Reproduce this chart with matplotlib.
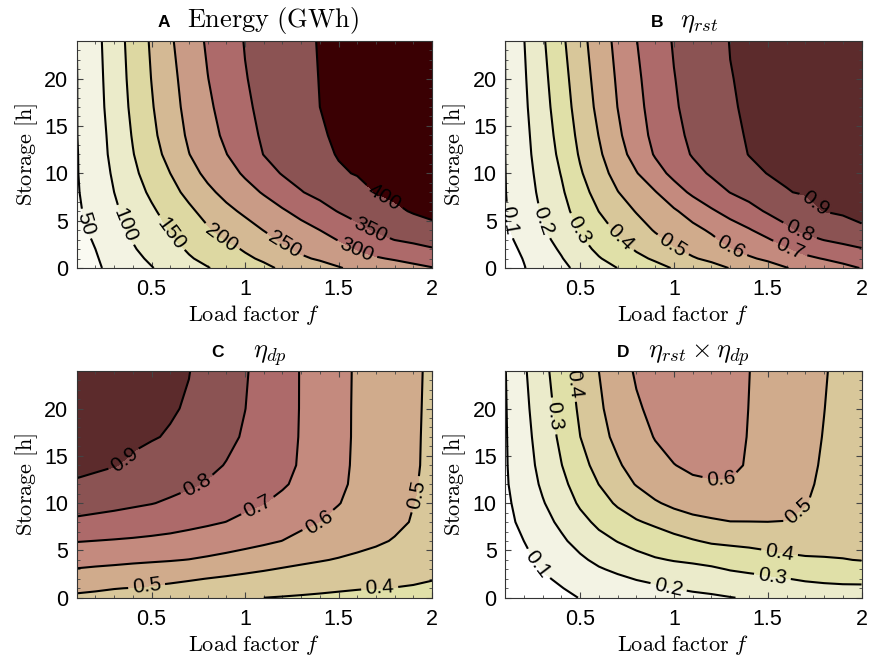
import numpy as np
import matplotlib
matplotlib.use('Agg')
import matplotlib.pyplot as plt
from matplotlib.ticker import MultipleLocator

plt.rcParams['mathtext.fontset'] = 'cm'
plt.rcParams['font.family'] = ['Liberation Sans', 'DejaVu Sans']

# grid
load_factor = [0.1, 0.2, 0.3, 0.4, 0.5, 0.6, 0.7, 0.8, 0.9, 1.0,
               1.1, 1.2, 1.3, 1.4, 1.5, 1.6, 1.7, 1.8, 1.9, 2.0]
storage_h = [0, 1, 2, 3, 4, 6, 8, 10, 12, 14, 17, 20, 24]

# energy in GWh, one row per storage value
energy_gwh = [
    [20, 43, 63, 80, 98, 115, 132, 148, 163, 177, 191, 206, 220, 233, 247, 260, 270, 280, 289, 298],
    [29, 46, 69, 89, 107, 127, 146, 161, 178, 193, 206, 225, 244, 255, 267, 284, 296, 304, 313, 322],
    [35, 50, 74, 96, 116, 136, 155, 173, 189, 204, 222, 241, 258, 271, 285, 302, 316, 328, 338, 347],
    [39, 53, 79, 102, 124, 144, 165, 185, 202, 219, 237, 256, 271, 286, 302, 320, 337, 351, 358, 365],
    [42, 57, 83, 108, 131, 152, 174, 195, 215, 232, 251, 269, 284, 300, 319, 338, 354, 365, 374, 383],
    [45, 62, 92, 119, 143, 168, 191, 216, 239, 258, 277, 295, 314, 334, 352, 366, 379, 391, 404, 415],
    [47, 67, 100, 130, 158, 185, 212, 240, 263, 284, 304, 326, 348, 362, 375, 388, 401, 410, 412, 418],
    [48, 71, 107, 140, 171, 200, 233, 261, 283, 306, 331, 353, 365, 380, 396, 402, 406, 412, 414, 420],
    [48, 75, 113, 148, 181, 215, 249, 275, 299, 325, 351, 363, 377, 392, 402, 406, 409, 414, 416, 422],
    [49, 77, 116, 153, 189, 224, 257, 283, 309, 335, 356, 369, 383, 397, 404, 409, 412, 416, 419, 424],
    [49, 81, 121, 159, 196, 232, 264, 292, 317, 343, 360, 373, 386, 400, 406, 411, 416, 420, 423, 427],
    [49, 83, 124, 163, 201, 237, 269, 299, 324, 348, 362, 376, 389, 401, 407, 413, 419, 424, 428, 432],
    [50, 86, 127, 167, 206, 244, 276, 306, 330, 352, 365, 379, 392, 402, 409, 415, 421, 427, 434, 440],
]

# eta_rst in per mille
eta_rst_pm = [
    [45, 96, 138, 181, 221, 261, 301, 337, 372, 406, 439, 471, 503, 534, 566, 597, 626, 652, 678, 703],
    [65, 103, 152, 195, 248, 294, 334, 379, 412, 451, 493, 518, 551, 590, 614, 644, 683, 704, 725, 744],
    [76, 111, 164, 211, 268, 319, 363, 409, 448, 492, 523, 553, 595, 625, 654, 690, 727, 754, 775, 795],
    [84, 120, 176, 230, 287, 341, 389, 436, 480, 519, 549, 583, 628, 660, 693, 735, 776, 803, 821, 839],
    [88, 129, 189, 246, 304, 362, 413, 460, 507, 543, 574, 613, 659, 693, 734, 781, 817, 841, 866, 890],
    [94, 143, 210, 270, 335, 401, 455, 505, 549, 588, 639, 689, 730, 769, 810, 843, 878, 901, 910, 918],
    [97, 154, 224, 287, 364, 435, 497, 550, 595, 661, 717, 759, 802, 832, 867, 898, 904, 907, 916, 924],
    [98, 162, 235, 304, 390, 463, 533, 595, 664, 724, 770, 811, 843, 878, 902, 906, 910, 913, 920, 928],
    [99, 170, 245, 321, 410, 486, 562, 637, 708, 758, 807, 838, 872, 902, 907, 912, 916, 919, 925, 932],
    [99, 175, 252, 334, 424, 502, 582, 659, 724, 776, 818, 852, 887, 905, 912, 918, 923, 926, 930, 935],
    [99, 183, 263, 351, 441, 522, 601, 674, 736, 790, 828, 861, 895, 907, 915, 922, 929, 935, 939, 943],
    [99, 189, 273, 364, 453, 534, 611, 684, 744, 797, 834, 867, 898, 909, 917, 925, 933, 940, 946, 952],
    [100, 197, 287, 381, 469, 549, 625, 698, 755, 807, 841, 875, 902, 911, 920, 929, 938, 947, 956, 965],
]

# eta_dp in per mille
eta_dp_pm = [
    [488, 484, 478, 470, 461, 452, 443, 432, 421, 410, 400, 396, 392, 388, 384, 380, 376, 372, 369, 365],
    [514, 508, 502, 498, 489, 479, 469, 458, 450, 445, 434, 427, 421, 415, 409, 404, 400, 398, 393, 384],
    [555, 549, 542, 536, 529, 520, 509, 498, 488, 478, 469, 460, 453, 446, 439, 432, 426, 420, 413, 404],
    [596, 589, 583, 576, 570, 563, 553, 543, 531, 518, 506, 494, 484, 476, 468, 459, 452, 446, 439, 431],
    [632, 626, 621, 615, 610, 605, 598, 587, 575, 561, 546, 530, 516, 505, 495, 484, 474, 465, 458, 453],
    [704, 699, 694, 689, 683, 676, 666, 655, 642, 629, 615, 599, 575, 555, 539, 525, 511, 495, 480, 471],
    [784, 775, 766, 756, 746, 736, 724, 712, 699, 680, 660, 641, 621, 599, 576, 555, 537, 516, 495, 482],
    [838, 831, 823, 813, 803, 789, 772, 755, 738, 719, 702, 680, 655, 630, 603, 576, 553, 527, 501, 488],
    [893, 884, 870, 855, 840, 825, 811, 793, 770, 748, 728, 709, 682, 650, 615, 585, 558, 531, 503, 491],
    [915, 910, 903, 890, 872, 855, 838, 819, 796, 771, 749, 722, 692, 656, 620, 587, 559, 532, 504, 493],
    [923, 921, 917, 911, 905, 894, 872, 847, 820, 791, 760, 728, 695, 658, 622, 589, 560, 532, 504, 494],
    [939, 936, 930, 923, 915, 907, 893, 863, 832, 801, 766, 731, 696, 659, 623, 589, 561, 533, 504, 495],
    [960, 950, 940, 931, 921, 911, 902, 873, 840, 807, 770, 733, 696, 660, 624, 590, 561, 533, 504, 496],
]

energy = np.array(energy_gwh, float)
eta_rst = np.array(eta_rst_pm) / 1000
eta_dp = np.array(eta_dp_pm) / 1000
eta_total = eta_rst * eta_dp

band = ['#ffffff', '#f3f3e4', '#ebebcb', '#e0e0a8', '#d8c79a', '#d0ab8c',
        '#c48a7e', '#ad6a6a', '#8b5353', '#5c2b2c']
energy_colors = ['#fafaf2', '#f3f3e3', '#ebebca', '#ddd8a2', '#d4b994',
                 '#c99b86', '#ad6a6a', '#8b5353', '#3a0003']


def plot_panel(fig, rect, z, fill, colors, lines, fmt, label_pos, tag, title, tag_x, title_x):
    ax = fig.add_axes(rect)
    ax.contourf(load_factor, storage_h, z, levels=fill, colors=colors)
    cs = ax.contour(load_factor, storage_h, z, levels=lines, colors='k', linewidths=1.5)
    ax.clabel(cs, fmt=fmt, manual=label_pos, inline=True, fontsize=15, inline_spacing=4)
    ax.set_xlim(0.1, 2)
    ax.set_ylim(0, 24)
    ax.set_xticks([0.5, 1, 1.5, 2])
    ax.set_xticklabels(['0.5', '1', '1.5', '2'])
    ax.set_yticks([0, 5, 10, 15, 20])
    ax.xaxis.set_minor_locator(MultipleLocator(0.1))
    ax.yaxis.set_minor_locator(MultipleLocator(1))
    ax.tick_params(which='both', direction='in', top=True, right=True, labelsize=15.5, color='#444444')
    ax.tick_params(axis='x', pad=8)
    ax.tick_params(axis='y', pad=6)
    ax.tick_params(which='major', length=4)
    ax.tick_params(which='minor', length=2.5)
    for s in ax.spines.values():
        s.set_linewidth(0.8)
        s.set_color('#333333')
    ax.set_xlabel(r'$\mathrm{Load\ factor}\ f$', fontsize=16, labelpad=2)
    ax.set_ylabel(r'$\mathrm{Storage\ [h]}$', fontsize=16, labelpad=3)
    ax.text(tag_x, 1.06, tag, transform=ax.transAxes, fontsize=12.5, fontweight='bold', va='baseline')
    ax.text(title_x, 1.06, title, transform=ax.transAxes, fontsize=19, va='baseline')
    return ax


fig = plt.figure(figsize=(8.7, 6.58), dpi=100)

plot_panel(fig, [0.0882, 0.5927, 0.4084, 0.3454], energy,
           [0, 50, 100, 150, 200, 250, 300, 350, 400, 1000], energy_colors,
           [50, 100, 150, 200, 250, 300, 350, 400], '%d',
           [(0.168, 4.75), (0.355, 4.5), (0.6, 3.6), (0.865, 3.0), (1.21, 2.3),
            (1.595, 1.8), (1.665, 3.9), (1.736, 7.2)],
           'A', r'$\mathrm{Energy\ (GWh)}$', 0.228, 0.31)

plot_panel(fig, [0.5805, 0.5927, 0.4098, 0.3454], eta_rst,
           [0, .1, .2, .3, .4, .5, .6, .7, .8, .9, 2], band,
           [0.1, 0.2, 0.3, 0.4, 0.5, 0.6, 0.7, 0.8, 0.9], '%.1f',
           [(0.136, 5.1), (0.296, 4.9), (0.49, 4.0), (0.714, 3.2), (0.99, 2.3),
            (1.29, 1.8), (1.62, 2.1), (1.666, 3.7), (1.728, 6.3)],
           'B', r'$\eta_{rst}$', 0.408, 0.49)

plot_panel(fig, [0.0882, 0.0916, 0.4084, 0.345], eta_dp,
           [.3, .4, .5, .6, .7, .8, .9, 2], band[3:],
           [0.4, 0.5, 0.6, 0.7, 0.8, 0.9], '%.1f',
           [(0.367, 14.3), (0.75, 11.7), (1.07, 9.6), (1.4, 7.9), (0.474, 1.16),
            (1.92, 10.9), (1.72, 1.0)],
           'C', r'$\eta_{dp}$', 0.378, 0.495)

plot_panel(fig, [0.5805, 0.0916, 0.4098, 0.345], eta_total,
           [0, .1, .2, .3, .4, .5, .6, 2], band[:7],
           [0.1, 0.2, 0.3, 0.4, 0.5, 0.6], '%.1f',
           [(0.269, 3.45), (0.972, 1.16), (1.523, 2.0), (0.314, 19.1), (1.559, 4.3),
            (0.438, 22.6), (1.70, 8.2), (1.25, 12.4)],
           'D', r'$\eta_{rst}\times\eta_{dp}$', 0.314, 0.40)

fig.savefig('out.png', dpi=100)
